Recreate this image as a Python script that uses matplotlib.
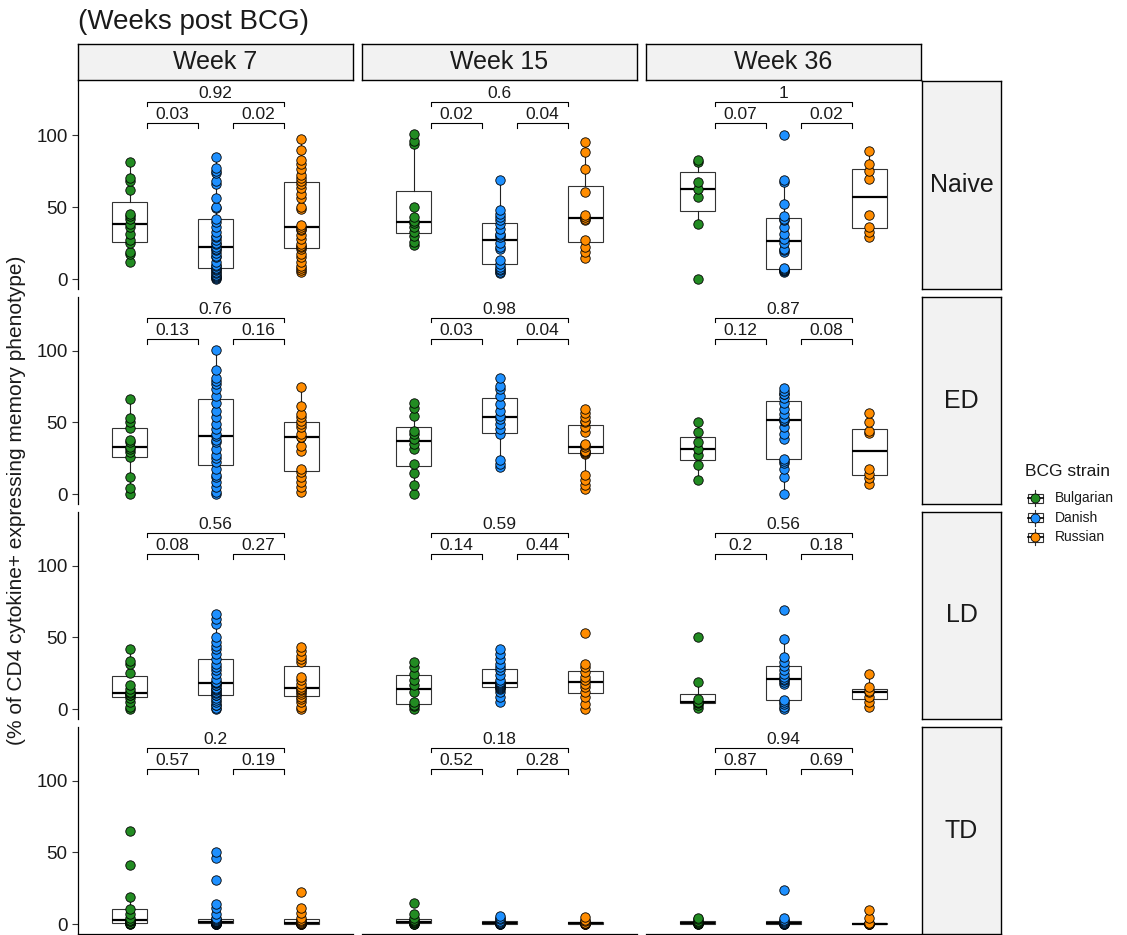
import matplotlib
matplotlib.use("Agg")
import matplotlib.pyplot as plt
from matplotlib.patches import Rectangle
import numpy as np

plt.rcParams['font.family'] = ['Liberation Sans', 'DejaVu Sans']

weeks = ["Week 7", "Week 15", "Week 36"]
phenotypes = ["Naive", "ED", "LD", "TD"]
strains = ["Bulgarian", "Danish", "Russian"]
colors = ["#228B22", "#1E90FF", "#FF8C00"]

# each list: [week 7, week 15, week 36]
naive_bulgarian = [
    [12, 17.7, 19, 24.7, 27, 31.6, 36, 38.5, 42, 44, 45.4, 61.5, 68.4, 70, 81.6],
    [23.5, 25.8, 30, 33, 36, 39, 40.2, 43, 50, 93.8, 96, 100.7],
    [0, 38, 57, 62.7, 67.3, 81, 83],
]
naive_danish = [
    [0, 0.5, 1.5, 2, 3, 4, 5, 6, 7, 8, 9, 10, 12, 15, 16, 18, 20, 21, 22.4, 24, 25, 27, 29,
     30, 33, 36, 39.6, 42, 49, 50, 56, 66, 68, 73.5, 75, 77, 85],
    [3.9, 5, 6.2, 7, 8.5, 10.8, 13, 21.2, 22, 25, 29.3, 30.4, 31.6, 35, 38.5, 40.8, 43, 45.4, 47.7, 69],
    [5, 5.5, 6, 6.2, 7, 7.4, 18.9, 20, 21.2, 24.7, 28, 31.6, 36, 40.8, 42, 44, 52.3, 67.3, 69, 100],
]
naive_russian = [
    [5, 6.2, 7.4, 9, 12, 15, 17.7, 21, 22.3, 23, 24.6, 28, 30.3, 33.8, 35, 36, 37.3, 48.7, 50,
     56, 59, 63.2, 66, 68.3, 70, 72.2, 76.3, 79.8, 82.8, 89.7, 97.5],
    [14.3, 18.9, 22.3, 27, 40.8, 41.5, 43, 44.2, 60.4, 76.5, 88.5, 95.4],
    [29.3, 32.7, 36, 44.2, 69.6, 75.3, 80, 89],
]

ed_bulgarian = [
    [0, 4.4, 12, 25.8, 29.3, 31.6, 32.7, 36.2, 38, 46, 50, 52.8, 66.6],
    [0, 6.2, 15, 21.2, 31.6, 35, 38.5, 41.9, 44.2, 54.6, 60.4, 63.8],
    [9.7, 20, 27, 31.6, 36.2, 43.5, 50.5],
]
ed_danish = [
    [0, 1.6, 5, 8.5, 12, 13.1, 17.7, 22.4, 25, 27, 31.6, 36.2, 38, 40.8, 42, 45.4, 48.8, 53.5,
     58, 63.8, 68.4, 73, 76.5, 78.8, 81, 86.9, 100.7],
    [18.9, 21.2, 23.5, 41.9, 45.4, 48.8, 52.3, 54.6, 58, 62.7, 68.4, 73, 75.3, 81],
    [0, 12, 17.7, 22, 23, 24.7, 38.5, 41.9, 46.5, 51.2, 52, 53, 55.8, 59.2, 63.8, 67.3, 69.6, 70, 71.9, 74.2],
]
ed_russian = [
    [1.6, 5, 8.5, 12, 15.4, 17.7, 30.4, 33.9, 39.6, 40, 42, 46.5, 48.8, 51.2, 53.5, 55.8, 61.5, 74.9],
    [3.9, 6.2, 9.7, 13.1, 28.1, 29, 29.5, 30, 30.4, 32.7, 34, 35, 43, 46.5, 50, 51, 53.5, 56.9, 59.7],
    [7.4, 11.3, 14.3, 17.7, 42.6, 44, 50, 56.5],
]

ld_bulgarian = [
    [0, 1.6, 5, 8, 9.7, 10, 11, 12, 14.3, 16.6, 25.3, 31.6, 33.9, 41.9],
    [0, 2, 3, 5, 12, 16.6, 20, 24.7, 29.3, 32.7],
    [0.5, 2.8, 4.5, 4.8, 5, 7.4, 18.9, 50],
]
ld_danish = [
    [0, 1, 2.8, 3, 5, 6.2, 8, 9.7, 10, 11, 12, 13.1, 14, 15, 16.6, 17, 18, 18.9, 19, 21.2, 24.7,
     27, 29.3, 31.6, 35, 38.5, 41.9, 44.2, 46.5, 50, 59.2, 62.7, 66],
    [5, 8.5, 12, 14, 15, 15.4, 16, 17, 17.7, 18, 19, 20, 23.5, 27, 29.3, 31.6, 35, 38.5, 41.9],
    [0, 1.6, 3.9, 5, 6.2, 17.7, 19, 20, 21, 22.4, 24.7, 27, 30.4, 32.7, 36.2, 48.8, 68.9],
]
ld_russian = [
    [0, 1.6, 5, 7, 8.5, 10.8, 12, 13.1, 14, 15.4, 17.7, 20, 22.4, 33, 35, 37.3, 40.8, 43],
    [0, 3.9, 8.5, 12, 15.4, 17.7, 20, 22.4, 25.8, 29.3, 31.6, 52.8],
    [1.6, 5, 8.5, 12, 12.5, 15.4, 24.7],
]

td_bulgarian = [
    [0, 0, 0.5, 1, 2, 2.3, 3, 4.6, 6.9, 10.3, 19.1, 41.4, 64.8],
    [0, 0, 0.3, 0.8, 1.5, 1.8, 2.3, 3, 4.6, 6.9, 14.5],
    [0, 0, 0.3, 0.7, 1, 1.5, 2.3, 3.5, 4.6],
]
td_danish = [
    [0, 0, 0, 0, 0.2, 0.3, 0.5, 0.5, 0.8, 1, 1, 1.2, 1.5, 1.5, 1.8, 2, 2, 2.3, 2.5, 3, 3.5,
     4.6, 6.9, 11.5, 13.8, 30.6, 46, 50.6],
    [0, 0, 0, 0.3, 0.5, 0.7, 1, 1.5, 2, 3.4, 4.5, 5.7],
    [0, 0, 0, 0.3, 0.5, 0.7, 1, 1.5, 2.3, 3, 4.6, 24.1],
]
td_russian = [
    [0, 0, 0, 0.2, 0.3, 0.5, 0.5, 0.7, 1, 1.5, 2.3, 3, 4.6, 8, 11.5, 22.5],
    [0, 0, 0, 0.2, 0.5, 0.8, 1.1, 2, 2.8, 5],
    [0, 0, 0, 0, 0.2, 0.5, 1, 4.6, 9.7],
]

# p-values per week: [Bulgarian vs Danish, Danish vs Russian, Bulgarian vs Russian]
naive_p = [["0.03", "0.02", "0.92"], ["0.02", "0.04", "0.6"], ["0.07", "0.02", "1"]]
ed_p = [["0.13", "0.16", "0.76"], ["0.03", "0.04", "0.98"], ["0.12", "0.08", "0.87"]]
ld_p = [["0.08", "0.27", "0.56"], ["0.14", "0.44", "0.59"], ["0.2", "0.18", "0.56"]]
td_p = [["0.57", "0.19", "0.2"], ["0.52", "0.28", "0.18"], ["0.87", "0.69", "0.94"]]

rows = [
    (naive_bulgarian, naive_danish, naive_russian, naive_p),
    (ed_bulgarian, ed_danish, ed_russian, ed_p),
    (ld_bulgarian, ld_danish, ld_russian, ld_p),
    (td_bulgarian, td_danish, td_russian, td_p),
]

W, H = 1127, 935
fig = plt.figure(figsize=(W / 100, H / 100), dpi=100)


def px_axes(x0, y0, x1, y1):
    return fig.add_axes([x0 / W, 1 - y1 / H, (x1 - x0) / W, (y1 - y0) / H])


col_x = [(78, 353), (362, 637), (646, 921)]
row_y = [(81, 289), (297, 504), (512, 719), (727, 934)]
strip_fill = "#F2F2F2"


def bracket(ax, x1, x2, y, label):
    ax.plot([x1, x1, x2, x2], [y - 3, y, y, y - 3], color="black", lw=0.8, zorder=2)
    ax.text((x1 + x2) / 2, y + 0.8, label, ha="center", va="bottom", fontsize=12.5, color="#1a1a1a")


for r, (bul, dan, rus, pv) in enumerate(rows):
    for c in range(3):
        ax = px_axes(col_x[c][0], row_y[r][0], col_x[c][1], row_y[r][1])
        groups = [bul[c], dan[c], rus[c]]
        ax.boxplot(groups, positions=[1, 2, 3], widths=0.4, showfliers=False, showcaps=False,
                   patch_artist=True,
                   boxprops=dict(facecolor="white", edgecolor="#333333", linewidth=0.8),
                   medianprops=dict(color="black", linewidth=1.6),
                   whiskerprops=dict(color="#222222", linewidth=0.8))
        for i, vals in enumerate(groups):
            ax.scatter(np.full(len(vals), i + 1), vals, s=46, c=colors[i],
                       edgecolors="black", linewidths=0.6, zorder=3)
        bracket(ax, 1.2, 1.8, 108, pv[c][0])
        bracket(ax, 2.2, 2.8, 108, pv[c][1])
        bracket(ax, 1.2, 2.8, 123, pv[c][2])

        ax.set_xlim(0.4, 3.6)
        ax.set_ylim(-6.9, 137.5)
        ax.set_xticks([])
        for s in ["top", "right"]:
            ax.spines[s].set_visible(False)
        if c == 0:
            ax.set_yticks([0, 50, 100])
            ax.tick_params(axis="y", labelsize=13.5, length=4, width=0.8, colors="#333333",
                           labelcolor="#1a1a1a")
            ax.spines["left"].set_linewidth(0.9)
        else:
            ax.set_yticks([])
            ax.spines["left"].set_visible(False)
        if r == 3:
            ax.spines["bottom"].set_linewidth(0.9)
        else:
            ax.spines["bottom"].set_visible(False)

    # right strip
    sax = px_axes(922, row_y[r][0], 1001, row_y[r][1])
    sax.set_facecolor(strip_fill)
    sax.set_xticks([])
    sax.set_yticks([])
    for s in sax.spines.values():
        s.set_linewidth(1.0)
    sax.text(0.5, 0.5, phenotypes[r], ha="center", va="center", fontsize=18,
             transform=sax.transAxes, color="#1a1a1a")

# top strips
for c in range(3):
    tax = px_axes(col_x[c][0], 44, col_x[c][1], 80)
    tax.set_facecolor(strip_fill)
    tax.set_xticks([])
    tax.set_yticks([])
    for s in tax.spines.values():
        s.set_linewidth(1.0)
    tax.text(0.5, 0.5, weeks[c], ha="center", va="center", fontsize=18,
             transform=tax.transAxes, color="#1a1a1a")

fig.text(78 / W, 1 - 22 / H, "(Weeks post BCG)", ha="left", va="center", fontsize=20, color="#1a1a1a")
fig.text(17 / W, 1 - 500 / H, "(% of CD4 cytokine+ expressing memory phenotype)", rotation=90,
         ha="center", va="center", fontsize=15, color="#1a1a1a")

# legend, drawn in pixel coordinates
lax = px_axes(1010, 455, 1127, 550)
lax.set_xlim(1010, 1127)
lax.set_ylim(550, 455)
lax.axis("off")
lax.text(1025, 472, "BCG strain", ha="left", va="center", fontsize=12.5, color="#1a1a1a")
for i, name in enumerate(strains):
    yc = 498 + i * 19.5
    lax.plot([1035, 1035], [yc - 8, yc + 8], color="#333333", lw=0.8)
    lax.add_patch(Rectangle((1028, yc - 4.5), 15, 9, facecolor="white", edgecolor="#333333", lw=0.8))
    lax.plot([1028, 1043], [yc, yc], color="black", lw=1.2)
    lax.plot([1035], [yc], marker="o", markersize=6.5, markerfacecolor=colors[i],
             markeredgecolor="black", markeredgewidth=0.6)
    lax.text(1055, yc, name, ha="left", va="center", fontsize=10, color="#1a1a1a")

fig.savefig("out.png", dpi=100)
